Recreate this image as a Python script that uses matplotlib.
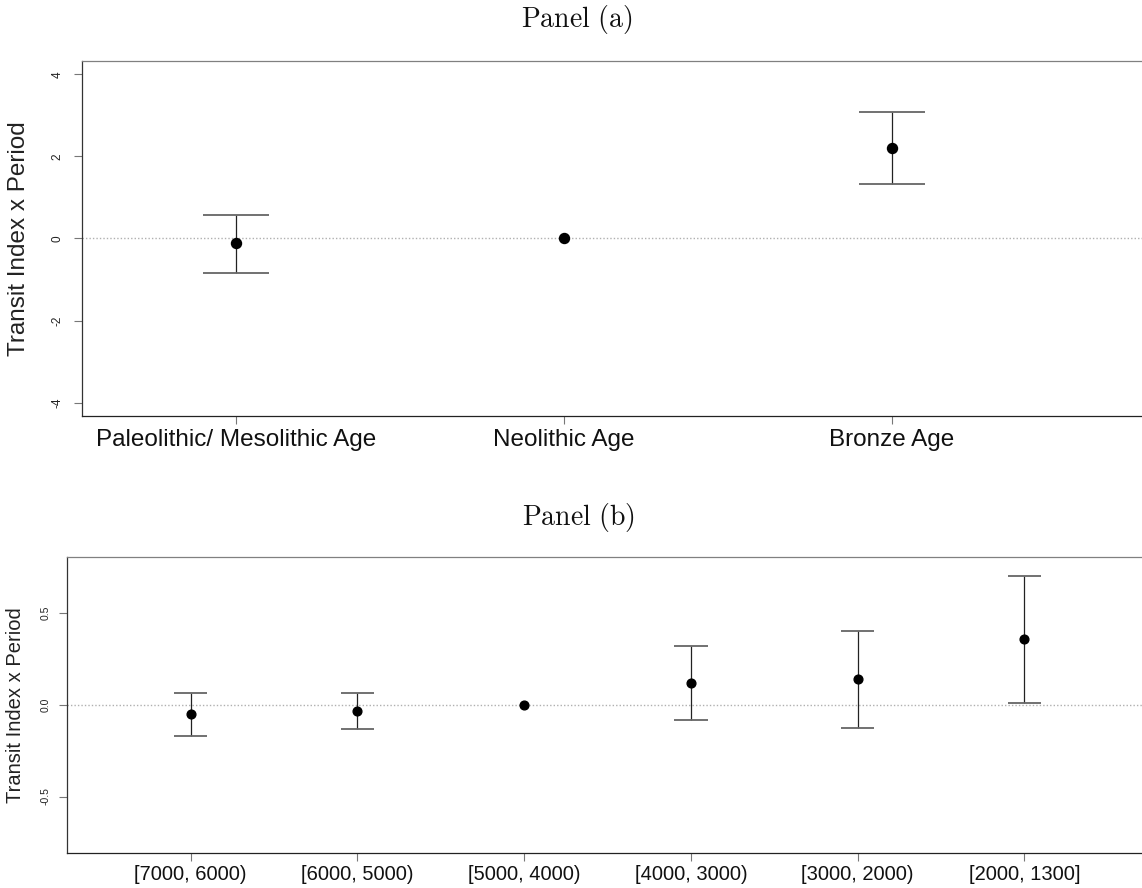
import matplotlib
matplotlib.use('Agg')
import matplotlib.pyplot as plt

# Panel (a): broad periods
periods_a = ['Paleolithic/ Mesolithic Age', 'Neolithic Age', 'Bronze Age']
est_a = [-0.12, 0.0, 2.21]
low_a = [-0.83, None, 1.33]
high_a = [0.58, None, 3.09]

# Panel (b): millennia bins
periods_b = ['[7000, 6000)', '[6000, 5000)', '[5000, 4000)',
             '[4000, 3000)', '[3000, 2000)', '[2000, 1300]']
est_b = [-0.052, -0.033, 0.0, 0.12, 0.139, 0.357]
low_b = [-0.172, -0.133, None, -0.082, -0.125, 0.011]
high_b = [0.064, 0.065, None, 0.319, 0.40, 0.70]

ylab = 'Transit Index x Period'

plt.rcParams['font.family'] = ['Liberation Sans', 'DejaVu Sans']
plt.rcParams['mathtext.fontset'] = 'cm'

W, H = 1142, 888
fig = plt.figure(figsize=(W / 100, H / 100), dpi=100)


def px_axes(left, top, bottom):
    # axes run off the right edge of the picture
    return fig.add_axes([left / W, 1 - bottom / H, (W - left) / W, (bottom - top) / H])


def draw_panel(ax, labels, est, low, high, xlim, ylim, yticks, ytick_fmt,
               ms, lab_size, tick_size, xpad, ypad):
    xs = list(range(1, len(labels) + 1))
    ax.axhline(0, color='#b0b0b0', lw=1.0, ls=(0, (1, 1.5)), zorder=1)
    bx = [x for x, l in zip(xs, low) if l is not None]
    bl = [l for l in low if l is not None]
    bh = [h for h in high if h is not None]
    ax.vlines(bx, bl, bh, color='#222222', lw=0.9, zorder=2)
    cap = 0.1
    ax.hlines(bl, [x - cap for x in bx], [x + cap for x in bx], color='#666666', lw=1.3, zorder=2)
    ax.hlines(bh, [x - cap for x in bx], [x + cap for x in bx], color='#666666', lw=1.3, zorder=2)
    ax.plot(xs, est, 'o', color='black', ms=ms, zorder=3)

    ax.set_xlim(*xlim)
    ax.set_ylim(*ylim)
    ax.set_xticks(xs)
    ax.set_xticklabels(labels, fontsize=lab_size, color='#111111')
    ax.set_yticks(yticks)
    ax.set_yticklabels([ytick_fmt.format(v) for v in yticks], fontsize=tick_size,
                       color='#222222', rotation=90, va='center')
    ax.tick_params(axis='both', direction='out', length=5.5, width=0.8, color='#777777')
    ax.tick_params(axis='x', pad=xpad)
    ax.tick_params(axis='y', pad=ypad)
    ax.spines['right'].set_visible(False)
    ax.spines['top'].set_color('#808080')
    ax.spines['left'].set_color('#333333')
    ax.spines['bottom'].set_color('#222222')
    for s in ax.spines.values():
        s.set_linewidth(0.9)
    ax.set_ylabel(ylab, fontsize=lab_size, color='#222222')
    ax.yaxis.label.set_va('center')


ax1 = px_axes(81.7, 61, 416)
draw_panel(ax1, periods_a, est_a, low_a, high_a,
           xlim=(0.5296, 3.762), ylim=(-4.324, 4.324), yticks=[-4, -2, 0, 2, 4],
           ytick_fmt='{:d}', ms=7.2, lab_size=17.5, tick_size=8.5, xpad=4, ypad=7.5)
ax1.yaxis.set_label_coords(-0.0591, 0.5)

ax2 = px_axes(67.3, 556.7, 852.7)
draw_panel(ax2, periods_b, est_b, low_b, high_b,
           xlim=(0.260, 6.706), ylim=(-0.806, 0.806), yticks=[-0.5, 0.0, 0.5],
           ytick_fmt='{:.1f}', ms=6.3, lab_size=14.5, tick_size=7.5, xpad=3, ypad=6.5)
ax2.yaxis.set_label_coords(-0.0482, 0.5)

fig.text(577 / W, 1 - 27 / H, r'$\mathrm{Panel\ (a)}$', fontsize=20, ha='center', va='baseline', color='#111111')
fig.text(578 / W, 1 - 525 / H, r'$\mathrm{Panel\ (b)}$', fontsize=20, ha='center', va='baseline', color='#111111')

fig.savefig('out.png', dpi=100)
